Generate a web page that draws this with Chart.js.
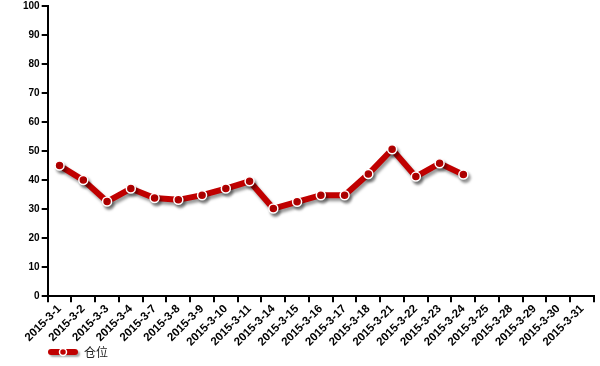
<!DOCTYPE html>
<html lang="zh">
  <head>
    <meta charset="UTF-8" />
    <title>仓位</title>
    <style>
      body { margin: 0; background: #fff; }
      #wrap { width: 600px; height: 366px; }
    </style>
  </head>
  <body>
    <div id="wrap">
      <canvas id="myChart" width="600" height="366"></canvas>
    </div>

    <script src="https://cdn.jsdelivr.net/npm/chart.js"></script>
    <script>
      const dates = [
        "2015-3-1", "2015-3-2", "2015-3-3", "2015-3-4", "2015-3-7", "2015-3-8",
        "2015-3-9", "2015-3-10", "2015-3-11", "2015-3-14", "2015-3-15", "2015-3-16",
        "2015-3-17", "2015-3-18", "2015-3-21", "2015-3-22", "2015-3-23", "2015-3-24",
        "2015-3-25", "2015-3-28", "2015-3-29", "2015-3-30", "2015-3-31",
      ];
      const position = [
        45, 40, 32.6, 37.1, 33.8, 33.2, 34.8, 37.1, 39.6, 30.2, 32.5, 34.8,
        34.8, 42.1, 50.6, 41.2, 45.8, 41.9, null, null, null, null, null,
      ];
      const seriesName = "仓位";
      const red = "#c00000";

      // legend drawn by hand: thick line + marker, then the name
      const legendPlugin = {
        id: "bottomLegend",
        afterDraw(chart) {
          const ctx = chart.ctx;
          const y = 352;
          ctx.save();
          ctx.shadowColor = "rgba(0,0,0,0.35)";
          ctx.shadowOffsetX = 2;
          ctx.shadowOffsetY = 2;
          ctx.shadowBlur = 2;
          ctx.strokeStyle = red;
          ctx.lineWidth = 6;
          ctx.lineCap = "round";
          ctx.beginPath();
          ctx.moveTo(51, y);
          ctx.lineTo(75, y);
          ctx.stroke();
          ctx.shadowColor = "transparent";
          ctx.beginPath();
          ctx.arc(63, y, 3.5, 0, Math.PI * 2);
          ctx.fillStyle = red;
          ctx.fill();
          ctx.lineWidth = 1.5;
          ctx.strokeStyle = "#fff";
          ctx.stroke();
          ctx.fillStyle = "#222";
          ctx.font = "12px 'Noto Sans CJK SC', sans-serif";
          ctx.textBaseline = "middle";
          ctx.fillText(seriesName, 84, y);
          ctx.restore();
        },
      };

      const shadowPlugin = {
        id: "shadow",
        beforeDatasetsDraw(chart) {
          const ctx = chart.ctx;
          ctx.save();
          ctx.shadowColor = "rgba(0,0,0,0.4)";
          ctx.shadowOffsetX = 2;
          ctx.shadowOffsetY = 3;
          ctx.shadowBlur = 3;
        },
        afterDatasetsDraw(chart) {
          chart.ctx.restore();
        },
      };

      const fontFamily = "'Liberation Sans', Arial, sans-serif";

      const config = {
        type: "line",
        data: {
          labels: dates,
          datasets: [
            {
              label: seriesName,
              data: position,
              borderColor: red,
              backgroundColor: red,
              borderWidth: 6,
              pointRadius: 4.5,
              pointBorderWidth: 1.5,
              pointBorderColor: "#fff",
              pointBackgroundColor: red,
              tension: 0,
              spanGaps: false,
            },
          ],
        },
        options: {
          responsive: false,
          animation: false,
          layout: { padding: { left: 21, right: 6, top: 2, bottom: 17 } },
          plugins: {
            legend: { display: false },
            tooltip: { enabled: false },
          },
          scales: {
            x: {
              offset: true,
              grid: {
                offset: true,
                drawOnChartArea: false,
                drawTicks: true,
                tickLength: 6,
                color: "#000",
                lineWidth: 2,
              },
              border: { color: "#000", width: 2 },
              ticks: {
                autoSkip: false,
                minRotation: 45,
                maxRotation: 45,
                color: "#000",
                font: { family: fontFamily, size: 11.5, weight: "bold" },
                padding: 0,
              },
            },
            y: {
              min: 0,
              max: 100,
              grid: {
                drawOnChartArea: false,
                drawTicks: true,
                tickLength: 6,
                color: "#000",
                lineWidth: 2,
              },
              border: { color: "#000", width: 2 },
              ticks: {
                stepSize: 10,
                color: "#000",
                font: { family: fontFamily, size: 10, weight: "bold", lineHeight: 0.8 },
                padding: 2,
              },
            },
          },
        },
        plugins: [shadowPlugin, legendPlugin],
      };

      const myChart = new Chart(document.getElementById("myChart"), config);
    </script>
  </body>
</html>
